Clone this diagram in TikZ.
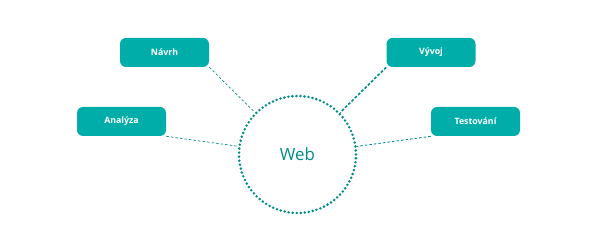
\documentclass[tikz,border=0pt]{standalone}
\usepackage{fontspec}
\setmainfont{Open Sans}
\usetikzlibrary{shapes}

\definecolor{tyrkys}{RGB}{0,173,169}
\definecolor{tyrkystmavy}{RGB}{0,140,136}

\tikzset{
    faze/.style={draw=none, fill=tyrkys, rounded corners=0.12cm, minimum width=1.78cm,
        minimum height=0.58cm, text=white, font=\fontsize{5}{6}\selectfont\bfseries},
    spoj/.style={draw=tyrkystmavy, line width=0.4pt, dash pattern=on 1.4pt off 1.2pt},
}

\begin{document}
\begin{tikzpicture}

        \useasboundingbox (0, 0) rectangle (12, 5);

        \node[circle, minimum size=2.34cm, draw=tyrkystmavy, line width=1.6pt, line cap=round,
            dash pattern=on 0pt off 2.3pt, text=tyrkystmavy, font=\fontsize{9.6}{11}\selectfont]
            (web) at (5.95, 1.91) {Web};

        \node[faze] (navrh) at (3.29, 3.95) {Návrh};
        \node[faze] (analyza) at (2.43, 2.57) {Analýza};
        \node[faze] (vyvoj) at (8.62, 3.95) {Vývoj};
        \node[faze] (testovani) at (9.51, 2.57) {Testování};

        \draw[spoj] (navrh.south east) -- (web);
        \draw[spoj] (analyza.south east) -- (web);
        \draw[spoj, line width=0.9pt, dash pattern=on 1.6pt off 1pt] (vyvoj.south west) -- (web);
        \draw[spoj, line width=0.5pt] (testovani.south west) -- (web);

    \end{tikzpicture}
\end{document}
